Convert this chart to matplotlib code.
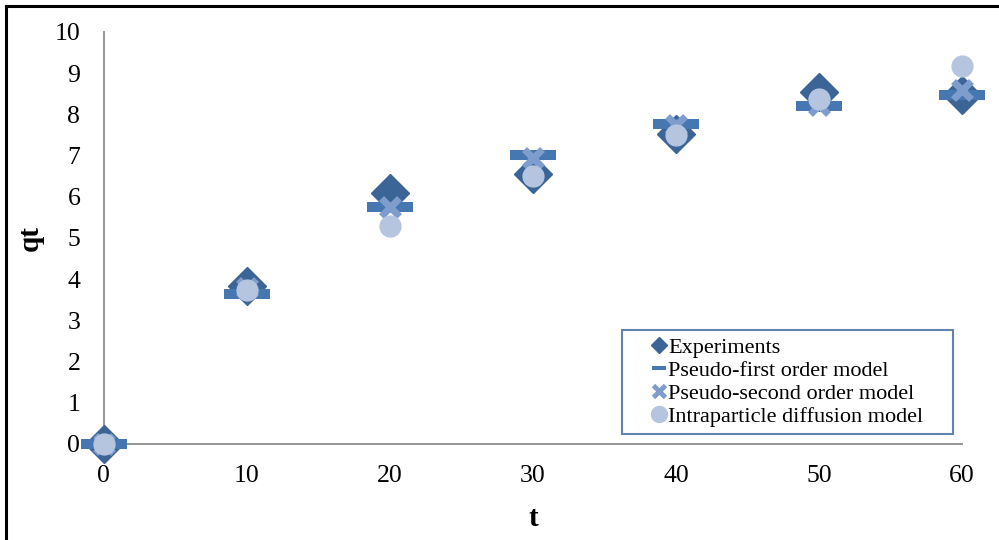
import numpy as np
import matplotlib.pyplot as plt
from matplotlib.lines import Line2D

plt.rcParams['font.family'] = ['Liberation Serif', 'DejaVu Serif']

t = [0, 10, 20, 30, 40, 50, 60]
experiments = [0, 3.82, 6.1, 6.54, 7.51, 8.55, 8.46]
pseudo_first = [0, 3.64, 5.76, 7.01, 7.76, 8.2, 8.46]
pseudo_second = [0, 3.78, 5.76, 6.94, 7.74, 8.22, 8.6]
intraparticle = [0, 3.74, 5.3, 6.5, 7.49, 8.36, 9.17]

labels = ["Experiments", "Pseudo-first order model",
          "Pseudo-second order model", "Intraparticle diffusion model"]

c_exp = "#3b6597"
c_first = "#4777b1"
c_second = "#7f9dcc"
c_intra = "#b5c5df"

# flat bar marker for the first order model
bar = [(-2.3, -0.5), (2.3, -0.5), (2.3, 0.5), (-2.3, 0.5), (-2.3, -0.5)]

fig = plt.figure(figsize=(9.99, 5.4), dpi=100)
ax = fig.add_axes([0.104, 0.178, 0.859, 0.763])

ax.plot(t, experiments, ls="none", marker="D", ms=19.5, color=c_exp, mec=c_exp,
        zorder=3, clip_on=False)
ax.plot(t, pseudo_first, ls="none", marker=bar, ms=33, color=c_first, mec=c_first,
        mew=0, zorder=4, clip_on=False)
ax.plot(t, pseudo_second, ls="none", marker="x", ms=13, mew=5, color=c_second,
        zorder=5, clip_on=False)
ax.plot(t, intraparticle, ls="none", marker="o", ms=15, color=c_intra, mec=c_intra,
        zorder=6, clip_on=False)

ax.set_xlim(0, 60)
ax.set_ylim(0, 10)
ax.set_xticks(range(0, 61, 10))
ax.set_yticks(range(0, 11))
for s in ["top", "right"]:
    ax.spines[s].set_visible(False)
for s in ["left", "bottom"]:
    ax.spines[s].set_color("#8c8c8c")
    ax.spines[s].set_linewidth(1.3)
    ax.spines[s].set_zorder(1)
ax.tick_params(axis="both", length=0, labelsize=18.5)
ax.tick_params(axis="y", pad=17)
ax.tick_params(axis="x", pad=15)

ax.set_xlabel("t", fontsize=21, fontweight="bold", labelpad=13)
ax.set_ylabel("qt", fontsize=21, fontweight="bold", labelpad=8)

handles = [
    Line2D([], [], ls="none", marker="D", ms=7.8, color=c_exp),
    Line2D([], [], ls="none", marker=bar, ms=10.5, color=c_first, mew=0),
    Line2D([], [], ls="none", marker="x", ms=8, mew=3.5, color=c_second),
    Line2D([], [], ls="none", marker="o", ms=11.5, color=c_intra),
]
leg = ax.legend(handles, labels, loc="lower left",
                bbox_to_anchor=(0.6037, 0.0243, 0.3858, 0.2477), mode="expand",
                fontsize=16, frameon=True, fancybox=False, borderpad=0.3,
                handlelength=2.73, handletextpad=-0.96, labelspacing=0.12,
                borderaxespad=0)
leg.get_frame().set_edgecolor(c_exp)
leg.get_frame().set_linewidth(1.5)

# outer frame
fig.add_artist(Line2D([6 / 999, 6 / 999], [0, 1 - 6 / 540], color="black", lw=2.2,
                      transform=fig.transFigure))
fig.add_artist(Line2D([6 / 999, 1], [1 - 6 / 540, 1 - 6 / 540], color="black", lw=2.2,
                      transform=fig.transFigure))

fig.savefig("out.png", dpi=100)
